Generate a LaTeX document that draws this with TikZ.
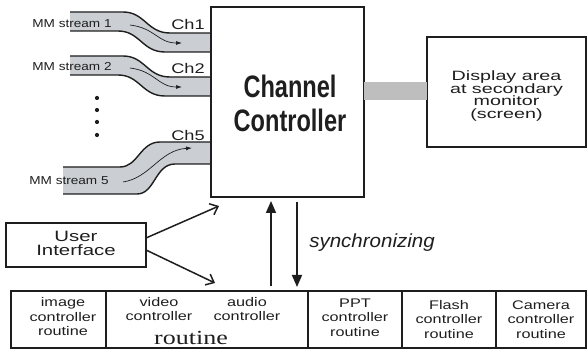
\documentclass[tikz,border=0pt]{standalone}
\usepackage{fontspec}
\setmainfont{Liberation Sans}
\newfontfamily\fw[FakeStretch=1.3]{Liberation Sans}
\newfontfamily\fdisp[FakeStretch=1.46]{Liberation Sans}
\newfontfamily\fui[FakeStretch=1.36]{Liberation Sans}
\newfontfamily\fms[FakeStretch=1.18]{Liberation Sans}
\newfontfamily\fcc[FakeStretch=0.76]{Liberation Sans Bold}
\newfontfamily\fser[FakeStretch=1.3]{Liberation Serif}
\newfontfamily\fsync[FakeStretch=1.08]{Liberation Sans Italic}
\usetikzlibrary{arrows.meta}
\definecolor{band}{RGB}{203,207,212}
\definecolor{link}{RGB}{190,190,190}
\definecolor{ink}{RGB}{30,30,30}
\begin{document}
\begin{tikzpicture}[x=1pt,y=-1pt,
  box/.style={draw=ink,line width=1.8pt,rectangle,inner sep=0pt},
  lbl/.style={inner sep=0pt,align=center,text=ink,font=\fw\fontsize{12.5}{14.5}\selectfont},
  edge/.style={draw=ink,line width=1.4pt},
  flow/.style={draw=ink,line width=0.7pt,-{Latex[length=6pt,width=4pt]}},
  openarr/.style={draw=ink,line width=1.5pt,-{Straight Barb[length=7pt,width=12pt,line width=1.5pt]}},
  fatarr/.style={draw=ink,line width=1.6pt,-{Triangle[length=12pt,width=10pt]}}]
\useasboundingbox (0,0) rectangle (587,352);

% input streams
\fill[band] (70,12) -- (123,12) .. controls (145,12) and (147,33) .. (170,33) -- (211,33)
  -- (211,52) -- (165,52) .. controls (142,52) and (140,31) .. (118,31) -- (70,31) -- cycle;
\draw[edge] (70,12) -- (123,12) .. controls (145,12) and (147,33) .. (170,33) -- (211,33);
\draw[edge] (211,52) -- (165,52) .. controls (142,52) and (140,31) .. (118,31) -- (70,31);

\fill[band] (70,56) -- (123,56) .. controls (145,56) and (147,77) .. (170,77) -- (211,77)
  -- (211,96) -- (165,96) .. controls (142,96) and (140,75) .. (118,75) -- (70,75) -- cycle;
\draw[edge] (70,56) -- (123,56) .. controls (145,56) and (147,77) .. (170,77) -- (211,77);
\draw[edge] (211,96) -- (165,96) .. controls (142,96) and (140,75) .. (118,75) -- (70,75);

\fill[band] (63,167) -- (120,167) .. controls (138,167) and (140,142) .. (160,142) -- (211,142)
  -- (211,164) -- (175,164) .. controls (155,164) and (155,194) .. (137,194) -- (63,194) -- cycle;
\draw[edge] (63,167) -- (120,167) .. controls (138,167) and (140,142) .. (160,142) -- (211,142);
\draw[edge] (211,164) -- (175,164) .. controls (155,164) and (155,194) .. (137,194) -- (63,194);

\coordinate (f1a) at (130,25); \coordinate (f1b) at (182,43);
\coordinate (f2a) at (130,68); \coordinate (f2b) at (182,87);
\coordinate (f5a) at (123,182); \coordinate (f5b) at (192,148);
\draw[flow] (f1a) .. controls (155,28) and (158,43) .. (f1b);
\draw[flow] (f2a) .. controls (155,71) and (158,87) .. (f2b);
\draw[flow] (f5a) .. controls (150,178) and (160,150) .. (f5b);

\node[lbl,font=\fms\fontsize{11.5}{13}\selectfont] (s1) at (72,24) {MM stream 1};
\node[lbl,font=\fms\fontsize{11.5}{13}\selectfont] (s2) at (72,67) {MM stream 2};
\node[lbl,font=\fms\fontsize{11.5}{13}\selectfont] (s5) at (69,181) {MM stream 5};
\node[lbl,font=\fw\fontsize{14}{14}\selectfont] (c1) at (188,25) {Ch1};
\node[lbl,font=\fw\fontsize{14}{14}\selectfont] (c2) at (188,69) {Ch2};
\node[lbl,font=\fw\fontsize{14}{14}\selectfont] (c5) at (188,135) {Ch5};

\foreach \yy in {98,110,122,135}
  \fill[ink] (97,\yy) circle (2.1pt);

% main boxes
\node[box,minimum width=153pt,minimum height=190pt] (cc) at (287.5,102) {};
\node[lbl,font=\fcc\fontsize{31}{34}\selectfont] (cct) at (290,103) {Channel\\Controller};

\node[box,minimum width=159pt,minimum height=110pt] (disp) at (506.5,92) {};
\node[lbl,font=\fdisp\fontsize{13.5}{12.7}\selectfont] (dispt) at (506.5,96) {Display area\\at secondary\\monitor\\(screen)};

\coordinate (g1) at (364,82); \coordinate (g2) at (427,100);
\fill[link] (g1) rectangle (g2);

\node[box,minimum width=140pt,minimum height=44pt] (ui) at (76,245) {};
\node[lbl,font=\fui\fontsize{15}{14}\selectfont] (uit) at (76,243) {User\\Interface};

% bottom row
\node[box,minimum width=95pt,minimum height=57pt] (b1) at (58.5,319.5) {};
\node[box,minimum width=202pt,minimum height=57pt] (b2) at (207,319.5) {};
\node[box,minimum width=94pt,minimum height=57pt] (b3) at (355,319.5) {};
\node[box,minimum width=94pt,minimum height=57pt] (b4) at (449,319.5) {};
\node[box,minimum width=90pt,minimum height=57pt] (b5) at (541,319.5) {};

\node[lbl] (t1) at (63,317) {image\\controller\\routine};
\node[lbl] (t2a) at (159,309) {video\\controller};
\node[lbl] (t2b) at (247,309) {audio\\controller};
\node[lbl,font=\fser\fontsize{20}{22}\selectfont] (t2c) at (191,338) {routine};
\node[lbl] (t3) at (355,317.5) {PPT\\controller\\routine};
\node[lbl] (t4) at (449,319.5) {Flash\\controller\\routine};
\node[lbl] (t5) at (541,319.5) {Camera\\controller\\routine};

% connectors
\coordinate (u1) at (146,238); \coordinate (u1t) at (219,206);
\coordinate (u2) at (146,250); \coordinate (u2t) at (215,283);
\draw[openarr] (u1) -- (u1t);
\draw[openarr] (u2) -- (u2t);

\coordinate (upa) at (271,286); \coordinate (upb) at (271,201);
\coordinate (dna) at (297,202); \coordinate (dnb) at (297,287);
\draw[fatarr] (upa) -- (upb);
\draw[fatarr] (dna) -- (dnb);

\node[lbl,font=\fsync\fontsize{19}{20}\selectfont] (sync) at (372,243) {synchronizing};
\end{tikzpicture}
\end{document}
